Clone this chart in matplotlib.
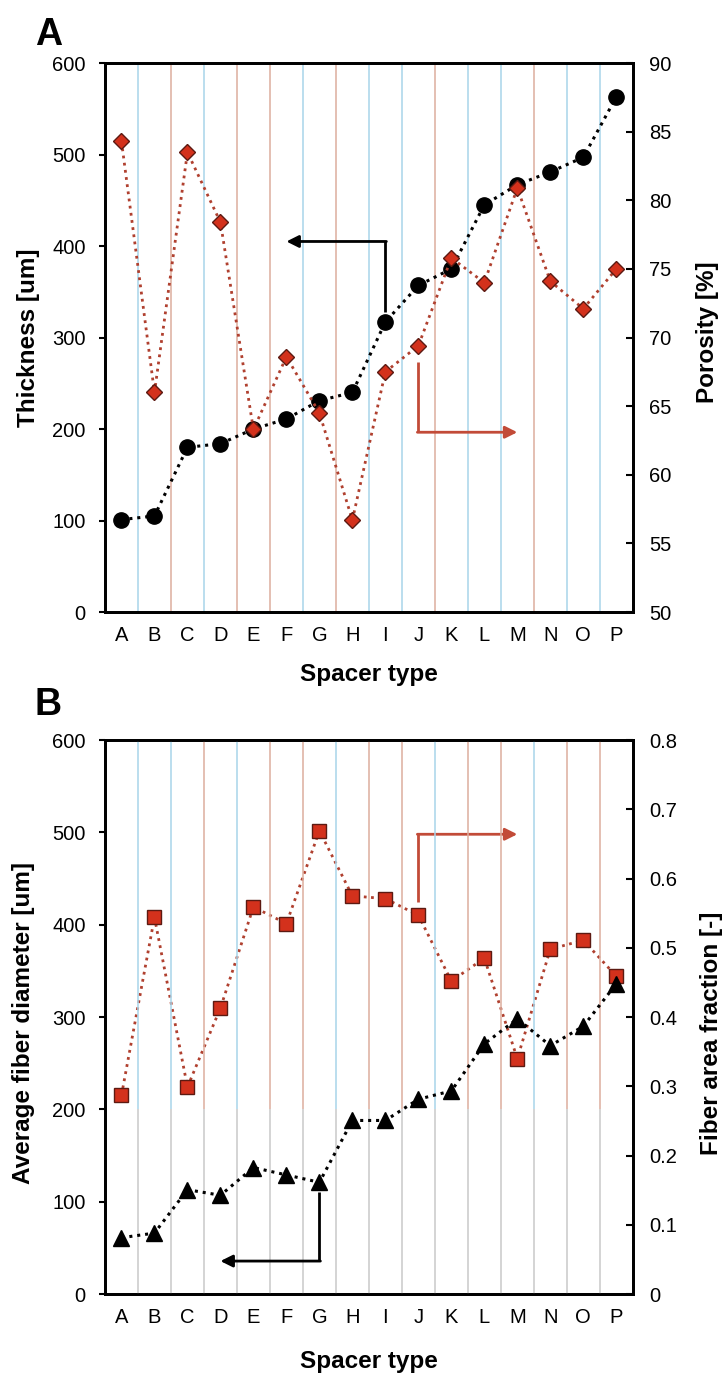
import matplotlib.pyplot as plt
import numpy as np

plt.rcParams['font.family'] = ['Liberation Sans', 'DejaVu Sans']

# data
spacers = list('ABCDEFGHIJKLMNOP')
thickness = [101, 105, 180, 184, 200, 211, 231, 240, 317, 357, 375, 445, 467, 481, 497, 563]
porosity = [84.3, 66.0, 83.5, 78.4, 63.3, 68.6, 64.5, 56.7, 67.5, 69.4, 75.8, 74.0, 80.9, 74.1, 72.1, 75.0]
fiber_diam = [61, 66, 113, 107, 137, 129, 121, 188, 188, 211, 220, 271, 298, 269, 290, 336]
area_frac = [0.287, 0.544, 0.299, 0.413, 0.559, 0.535, 0.669, 0.575, 0.571, 0.547,
             0.452, 0.485, 0.340, 0.498, 0.511, 0.459]

RED = '#d3311c'
RED_EDGE = '#5c1a12'
RED_LINE = '#b0402f'
ARROW_RED = '#c24b38'
BLUE_GRID = '#a8d5ea'
TAN_GRID = '#dcae9e'
GRAY_GRID = '#c9c9c9'
grid_a = 'btbttbtbbtbbtbb'  # tint of each category boundary, panel A
grid_b = 'bbtbttbttbttbtt'  # panel B (upper part only, lower part gray)
TICK_FS = 14.5
LABEL_FS = 17.5

x = np.arange(len(spacers))
dots = (0, (1, 1.6))


def style_axes(ax, ax2):
    for sp in ax.spines.values():
        sp.set_linewidth(2)
        sp.set_color('black')
    for sp in ax2.spines.values():
        sp.set_linewidth(2)
        sp.set_color('black')
    ax.set_xlim(-0.5, len(spacers) - 0.5)
    ax.set_xticks(x)
    ax.set_xticklabels(spacers)
    ax.tick_params(axis='x', length=0, pad=10, labelsize=TICK_FS)
    ax.tick_params(axis='y', direction='out', length=4, width=1.5, pad=10, labelsize=TICK_FS)
    ax2.tick_params(axis='y', direction='in', length=5, width=1.5, pad=12, labelsize=TICK_FS)
    ax.set_xlabel('Spacer type', fontsize=LABEL_FS, fontweight='bold')


fig = plt.figure(figsize=(7.25, 13.8), dpi=100)

# ---------------- panel A ----------------
axA = fig.add_axes([0.1448, 0.5565, 0.728, 0.3978])
axA2 = axA.twinx()
style_axes(axA, axA2)
for i, c in enumerate(grid_a):
    axA.axvline(i + 0.5, color=BLUE_GRID if c == 'b' else TAN_GRID, lw=1.1, zorder=0)

axA.plot(x, thickness, color='black', ls=dots, lw=2.2, marker='o', ms=11,
         markerfacecolor='black', markeredgecolor='black', zorder=3)
axA2.plot(x, porosity, color=RED_LINE, ls=dots, lw=2.0, marker='D', ms=8,
          markerfacecolor=RED, markeredgecolor=RED_EDGE, markeredgewidth=1, zorder=3)

axA.set_ylim(0, 600)
axA.set_yticks(np.arange(0, 601, 100))
axA2.set_ylim(50, 90)
axA2.set_yticks(np.arange(50, 91, 5))
axA.set_ylabel('Thickness [um]', fontsize=LABEL_FS, fontweight='bold')
axA2.set_ylabel('Porosity [%]', fontsize=LABEL_FS, fontweight='bold')
axA.yaxis.set_label_coords(-0.123, 0.5)
axA2.yaxis.set_label_coords(1.12, 0.51)
axA.xaxis.set_label_coords(0.5, -0.093)

# arrows panel A
axA.plot([8, 8], [328, 405], color='black', lw=2, solid_capstyle='butt', zorder=4)
axA.annotate('', xy=(5, 405), xytext=(8.03, 405),
             arrowprops=dict(arrowstyle='-|>', color='black', lw=2,
                             mutation_scale=18, shrinkA=0, shrinkB=0), zorder=4)
axA2.plot([9, 9], [68.2, 63.1], color=ARROW_RED, lw=2, solid_capstyle='butt', zorder=4)
axA2.annotate('', xy=(12, 63.1), xytext=(8.97, 63.1),
              arrowprops=dict(arrowstyle='-|>', color=ARROW_RED, lw=2,
                              mutation_scale=18, shrinkA=0, shrinkB=0), zorder=4)

fig.text(0.048, 0.988, 'A', fontsize=27, fontweight='bold', va='top')

# ---------------- panel B ----------------
axB = fig.add_axes([0.1448, 0.0623, 0.728, 0.4014])
axB2 = axB.twinx()
style_axes(axB, axB2)
for i, c in enumerate(grid_b):
    axB.vlines(i + 0.5, 200, 600, color=BLUE_GRID if c == 'b' else TAN_GRID, lw=1.1, zorder=0)
    axB.vlines(i + 0.5, 0, 200, color=GRAY_GRID, lw=1.1, zorder=0)

axB2.plot(x, area_frac, color=RED_LINE, ls=dots, lw=2.0, marker='s', ms=10,
          markerfacecolor=RED, markeredgecolor=RED_EDGE, markeredgewidth=1, zorder=3)
axB.plot(x, fiber_diam, color='black', ls=dots, lw=2.2, marker='^', ms=11,
         markerfacecolor='black', markeredgecolor='black', zorder=3)
axB.set_zorder(axB2.get_zorder() + 1)
axB.patch.set_visible(False)

axB.set_ylim(0, 600)
axB.set_yticks(np.arange(0, 601, 100))
axB2.set_ylim(0, 0.8)
axB2.set_yticks(np.round(np.arange(0, 0.81, 0.1), 1))
axB2.set_yticklabels(['0', '0.1', '0.2', '0.3', '0.4', '0.5', '0.6', '0.7', '0.8'])
axB.set_ylabel('Average fiber diameter [um]', fontsize=LABEL_FS, fontweight='bold')
axB2.set_ylabel('Fiber area fraction [-]', fontsize=LABEL_FS, fontweight='bold')
axB.yaxis.set_label_coords(-0.133, 0.49)
axB2.yaxis.set_label_coords(1.128, 0.47)
axB.xaxis.set_label_coords(0.5, -0.101)

# arrows panel B
axB.plot([6, 6], [111, 35.7], color='black', lw=2, solid_capstyle='butt', zorder=4)
axB.annotate('', xy=(3, 35.7), xytext=(6.03, 35.7),
             arrowprops=dict(arrowstyle='-|>', color='black', lw=2,
                             mutation_scale=18, shrinkA=0, shrinkB=0), zorder=4)
axB2.plot([9, 9], [0.566, 0.664], color=ARROW_RED, lw=2, solid_capstyle='butt', zorder=4)
axB2.annotate('', xy=(12, 0.664), xytext=(8.97, 0.664),
              arrowprops=dict(arrowstyle='-|>', color=ARROW_RED, lw=2,
                              mutation_scale=18, shrinkA=0, shrinkB=0), zorder=4)

fig.text(0.048, 0.502, 'B', fontsize=27, fontweight='bold', va='top')

fig.savefig('out.png', dpi=100)
